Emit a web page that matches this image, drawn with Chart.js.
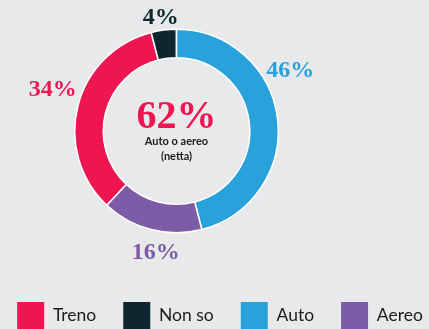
<!DOCTYPE html>
<html>
<head>
<meta charset="utf-8">
<script src="https://cdn.jsdelivr.net/npm/chart.js@4/dist/chart.umd.min.js"></script>
<style>
  html, body { margin: 0; padding: 0; background: #e8e9eb; }
  #wrap { width: 429px; height: 329px; }
  canvas { display: block; }
</style>
</head>
<body>
<div id="wrap"><canvas id="chart" width="429" height="329"></canvas></div>
<script>
// Mezzo di trasporto preferito (%)
const categories = ['Treno', 'Non so', 'Auto', 'Aereo'];
const shares = [34, 4, 46, 16];
const sliceColors = ['#ee1651', '#0e262e', '#29a2db', '#7d5ba6'];
// the net figure in the middle adds these two answers
const netParts = ['Auto', 'Aereo'];
const netCaption = ['Auto o aereo', '(netta)'];

const total = shares.reduce((s, v) => s + v, 0);
const netValue = netParts.reduce((s, name) => s + shares[categories.indexOf(name)], 0);
// start the "Auto" slice at twelve o'clock
const beforeAuto = shares.slice(0, categories.indexOf('Auto')).reduce((s, v) => s + v, 0);
const startRotation = -360 * beforeAuto / total;

const SERIF = '"Liberation Serif", "Times New Roman", serif';
const SANS = 'Lato, "Noto Sans", sans-serif';

// keeps the ring to the left, leaving the legend the full width
const ringArea = {
  id: 'ringArea',
  afterLayout(chart, args, o) {
    const a = chart.chartArea;
    a.left = o.left; a.right = o.left + o.size;
    a.top = o.top; a.bottom = o.top + o.size;
    a.width = o.size; a.height = o.size;
  }
};

// percentage written just outside each slice
const sliceLabels = {
  id: 'sliceLabels',
  afterDatasetsDraw(chart, args, o) {
    const ctx = chart.ctx;
    const ds = chart.data.datasets[0];
    const meta = chart.getDatasetMeta(0);
    ctx.save();
    ctx.font = 'bold ' + o.size + 'px ' + SERIF;
    ctx.textAlign = 'center';
    ctx.textBaseline = 'alphabetic';
    const capH = o.size * 0.66;
    meta.data.forEach((arc, i) => {
      const p = arc.getProps(['startAngle', 'endAngle', 'outerRadius', 'x', 'y'], true);
      const ang = p.startAngle + (p.endAngle - p.startAngle) * o.along[i];
      const text = ds.data[i] + '%';
      const w = ctx.measureText(text).width;
      const d = p.outerRadius + o.gap[i] + Math.abs(Math.cos(ang)) * w / 2 + Math.abs(Math.sin(ang)) * capH / 2;
      ctx.fillStyle = ds.backgroundColor[i];
      ctx.fillText(text, p.x + Math.cos(ang) * d, p.y + Math.sin(ang) * d + capH / 2);
    });
    ctx.restore();
  }
};

// net figure and caption in the hole
const centreText = {
  id: 'centreText',
  afterDatasetsDraw(chart, args, o) {
    const ctx = chart.ctx;
    const arc = chart.getDatasetMeta(0).data[0];
    if (!arc) return;
    const cx = arc.x, cy = arc.y;
    ctx.save();
    ctx.textAlign = 'center';
    ctx.textBaseline = 'alphabetic';
    ctx.fillStyle = sliceColors[0];
    ctx.font = 'bold 40px ' + SERIF;
    ctx.fillText(netValue + '%', cx, cy - 3);
    ctx.fillStyle = '#1c1c1c';
    ctx.font = 'bold 11px ' + SANS;
    ctx.fillText(netCaption[0], cx, cy + 13.5);
    ctx.fillText(netCaption[1], cx, cy + 28.5);
    ctx.restore();
  }
};

new Chart(document.getElementById('chart'), {
  type: 'doughnut',
  data: {
    labels: categories,
    datasets: [{
      data: shares,
      backgroundColor: sliceColors,
      borderColor: '#ffffff',
      borderWidth: 1.5,
      hoverOffset: 0
    }]
  },
  plugins: [ringArea, sliceLabels, centreText],
  options: {
    responsive: false,
    animation: false,
    events: [],
    rotation: startRotation,
    cutout: '72%',
    layout: { padding: { left: -20, right: -31, top: 0, bottom: -10 } },
    plugins: {
      ringArea: { left: 74, top: 28.5, size: 205 },
      sliceLabels: { size: 24, along: [0.54, 0.46, 0.37, 0.42], gap: [4, 3.5, 3, 8] },
      tooltip: { enabled: false },
      legend: {
        position: 'bottom',
        labels: {
          boxWidth: 27,
          boxHeight: 27,
          padding: 27,
          color: '#1c1c1c',
          font: { family: SANS, size: 17.5 },
          generateLabels(chart) {
            const items = Chart.overrides.doughnut.plugins.legend.labels.generateLabels(chart);
            items.forEach(it => { it.lineWidth = 0; it.strokeStyle = 'rgba(0,0,0,0)'; });
            return items;
          }
        }
      }
    }
  }
});
</script>
</body>
</html>
